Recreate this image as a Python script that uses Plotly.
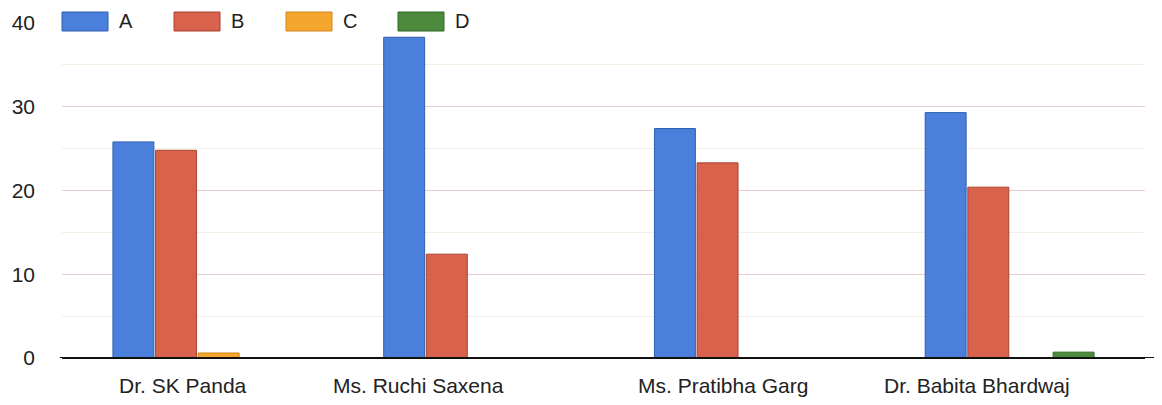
import plotly.graph_objects as go

categories = ["Dr. SK Panda", "Ms. Ruchi Saxena", "Ms. Pratibha Garg", "Dr. Babita Bhardwaj"]
series_names = ["A", "B", "C", "D"]
values_A = [25.8, 38.3, 27.4, 29.3]
values_B = [24.8, 12.4, 23.3, 20.4]
values_C = [0.6, 0, 0, 0]
values_D = [0, 0, 0, 0.7]
y_ticks = [0, 10, 20, 30, 40]

fills = ["#4a7fdc", "#d8624c", "#f5a62c", "#4b8b3b"]
edges = ["#2f5fb0", "#a8432f", "#d0861a", "#2f6a26"]
label_shifts = [-14, -50, -16, -33]  # label offsets seen in the reference (px)
FONT = "Liberation Sans, Arial, sans-serif"

fig = go.Figure()
for name, vals, fc, ec in zip(series_names, [values_A, values_B, values_C, values_D], fills, edges):
    fig.add_trace(go.Bar(name=name, x=categories, y=vals,
                         marker=dict(color=fc, line=dict(color=ec, width=1))))

PW, PH = 1083, 335
# custom legend with wide swatches (positions in px relative to plot area)
for i, (name, fc, ec) in enumerate(zip(series_names, fills, edges)):
    left = i * 112
    fig.add_shape(type="rect", xref="paper", yref="paper",
                  x0=left / PW, x1=(left + 46) / PW,
                  y0=(PH + 23 - 31) / PH, y1=(PH + 23 - 12) / PH,
                  fillcolor=fc, line=dict(color=ec, width=1), layer="above")
    fig.add_annotation(xref="paper", yref="paper", x=(left + 55) / PW,
                       y=(PH + 23 - 21) / PH, text=name, showarrow=False,
                       xanchor="left", yanchor="middle",
                       font=dict(size=20, color="#222", family=FONT))

# category labels
for cat, sh in zip(categories, label_shifts):
    fig.add_annotation(xref="x", yref="paper", x=cat, y=0, yshift=-27, xshift=sh,
                       text=cat, showarrow=False, xanchor="center", yanchor="middle",
                       font=dict(size=21, color="#222", family=FONT))

# baseline extending to the right edge
fig.add_shape(type="line", xref="paper", yref="y", x0=-0.002, x1=1.03, y0=0, y1=0,
              line=dict(color="#111", width=2), layer="above")

fig.update_layout(
    width=1162, height=405,
    margin=dict(l=54, r=25, t=15, b=55, autoexpand=False),
    paper_bgcolor="white", plot_bgcolor="white",
    barmode="group", bargap=0.37, bargroupgap=0.04,
    showlegend=False,
    font=dict(family=FONT, color="#222"),
)
fig.update_yaxes(range=[0, 40], tickvals=y_ticks, ticks="", showline=False, automargin=False,
                 gridcolor="#e8cccc", gridwidth=1,
                 minor=dict(dtick=5, showgrid=True, gridcolor="#f5eee4", gridwidth=1),
                 zeroline=True, zerolinecolor="#111", zerolinewidth=2,
                 tickfont=dict(size=21, color="#222"), ticklabelstandoff=26)
fig.update_xaxes(showline=False, ticks="", automargin=False, showticklabels=False)

fig.write_html("out.html")
